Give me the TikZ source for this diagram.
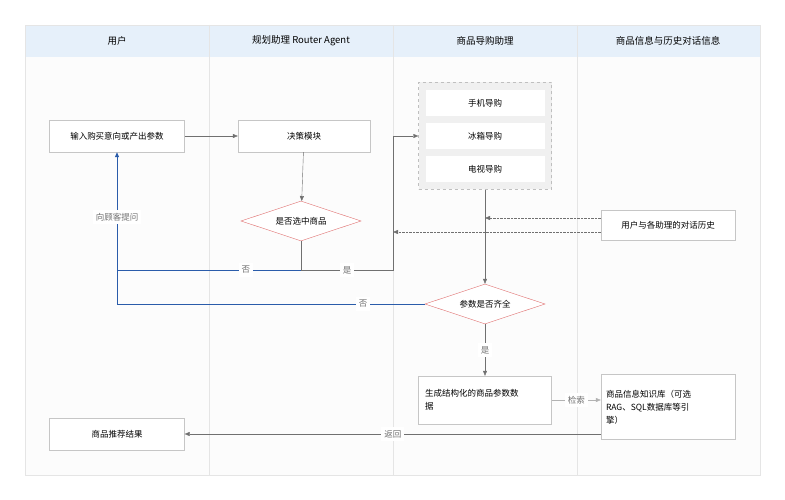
\documentclass[tikz,border=0pt]{standalone}
\usepackage{fontspec}
\setmainfont{Noto Sans CJK SC}
\usetikzlibrary{arrows.meta,shapes.geometric}
\definecolor{hdr}{HTML}{E6F0FA}
\definecolor{bln}{HTML}{2A5CAA}
\definecolor{dia}{HTML}{E07070}
\definecolor{gr}{HTML}{707070}
\begin{document}
\begin{tikzpicture}[x=1pt,y=-1pt,
 box/.style={draw=gray!45,fill=white,font=\fontsize{8.5}{13}\selectfont,align=center,inner sep=3pt},
 dm/.style={draw=dia,fill=white,font=\fontsize{8.5}{10}\selectfont,shape=diamond,shape aspect=2.67,minimum width=120pt,minimum height=40pt,inner sep=0pt},
 ar/.style={draw=gr,-{Triangle[length=5pt,width=4pt]}},
 bar/.style={draw=bln,thick},
 lab/.style={fill=white,text=gr,font=\fontsize{8.5}{10}\selectfont,inner sep=3pt},
 hd/.style={font=\fontsize{9.5}{11}\selectfont}]
\useasboundingbox (0,0) rectangle (785,500);
\fill[white] (0,0) rectangle (785,500);
\fill[gray!2] (25,25) rectangle (760,475);
\fill[hdr] (25,25) rectangle (760,57);
\draw[gray!20] (25,25) rectangle (760,475);
\foreach \x in {209,393,577} \draw[gray!20] (\x,25) -- (\x,475);
\node[hd] (h1) at (117,41) {用户};
\node[hd] (h2) at (301,41) {规划助理 Router Agent};
\node[hd] (h3) at (485,41) {商品导购助理};
\node[hd] (h4) at (668,41) {商品信息与历史对话信息};
\node[box,minimum width=135pt,minimum height=32pt] (in) at (117,136) {输入购买意向或产出参数};
\node[box,minimum width=132pt,minimum height=32pt] (dec) at (304,136) {决策模块};
\node[draw=gray!50,dashed,fill=gray!12,minimum width=133pt,minimum height=107pt] (grp) at (485,136) {};
\node[box,draw=none,minimum width=119pt,minimum height=26pt] (g1) at (485,103) {手机导购};
\node[box,draw=none,minimum width=119pt,minimum height=26pt] (g2) at (485,136) {冰箱导购};
\node[box,draw=none,minimum width=119pt,minimum height=26pt] (g3) at (485,169) {电视导购};
\node[dm] (d1) at (301,221) {是否选中商品};
\node[box,minimum width=134pt,minimum height=30pt] (his) at (668,225) {用户与各助理的对话历史};
\node[dm] (d2) at (485,304) {参数是否齐全};
\node[box,minimum width=133pt,minimum height=48pt,align=left,text width=120pt] (gen) at (485,400) {生成结构化的商品参数数\\据};
\node[box,minimum width=134pt,minimum height=65pt,align=left,text width=124pt] (kb) at (668,407) {商品信息知识库（可选\\RAG、SQL数据库等引\\擎）};
\node[box,minimum width=135pt,minimum height=32pt] (res) at (117,434) {商品推荐结果};
\coordinate (c1) at (301,270);
\coordinate (cl) at (117,270);
\coordinate (cr) at (393,270);
\coordinate (cu) at (393,136);
\coordinate (cl2) at (117,304);
\draw[ar] (in) -- (dec);
\draw[ar] (dec) -- (d1);
\draw[gr] (d1.south) -- (c1) -- node[lab]{是} (cr) -- (cu);
\draw[ar] (cu) -- (grp.west);
\draw[bar] (c1) -- node[lab,pos=0.3]{否} (cl);
\draw[bar] (d2.west) -- node[lab,pos=0.2]{否} (cl2) -- (cl);
\draw[bar,-{Triangle[length=5pt,width=4pt]}] (cl) -- node[lab,pos=0.45]{向顾客提问} (in.south);
\draw[ar] (grp.south) -- (d2.north);
\draw[ar,densely dotted] (his.west |- 0,218) -- (485,218);
\draw[ar,densely dotted] (his.west |- 0,232) -- (393,232);
\draw[ar] (d2.south) -- node[lab]{是} (gen.north);
\draw[ar,gray!60] (gen.east) -- node[lab]{检索} (kb.west |- gen.east);
\draw[ar] (kb.west |- res.east) -- node[lab]{返回} (res.east);
\end{tikzpicture}
\end{document}
